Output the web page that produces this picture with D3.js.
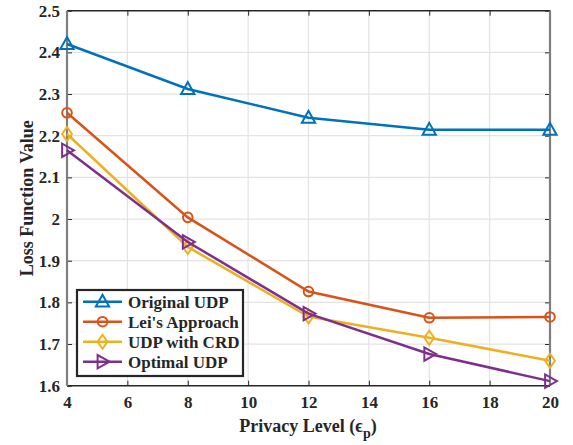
<!DOCTYPE html>
<html><head><meta charset="utf-8">
<script src="https://cdn.jsdelivr.net/npm/d3@7"></script>
<style>body{margin:0;background:#fff}svg{display:block}text{font-family:"Liberation Serif","Times New Roman",serif;font-weight:bold;fill:#262626}</style>
</head><body><svg id="c" width="573" height="445"></svg>
<script>
const privacyLevels = [4, 8, 12, 16, 20];
const seriesNames = ["Original UDP", "Lei's Approach", "UDP with CRD", "Optimal UDP"];
const originalUDP = [2.42, 2.312, 2.243, 2.214, 2.214];
const leiApproach = [2.255, 2.004, 1.826, 1.763, 1.765];
const udpWithCRD = [2.204, 1.933, 1.766, 1.715, 1.66];
const optimalUDP = [2.165, 1.945, 1.773, 1.676, 1.611];
const xTicks = [4, 6, 8, 10, 12, 14, 16, 18, 20];
const yTicks = [1.6, 1.7, 1.8, 1.9, 2, 2.1, 2.2, 2.3, 2.4, 2.5];

const colors = ["#0072BD", "#D95319", "#EDB120", "#7E2F8E"];
const markers = ["triUp", "circle", "diamond", "triRight"];
const series = [originalUDP, leiApproach, udpWithCRD, optimalUDP];

const svg = d3.select("#c");
const L = 67, R = 550, T = 10.7, B = 385.7;
const x = d3.scaleLinear().domain([4, 20]).range([L, R]);
const y = d3.scaleLinear().domain([1.6, 2.5]).range([B, T]);

// grid
svg.append("g").selectAll("line").data(xTicks.slice(1, -1)).join("line")
  .attr("x1", d => x(d)).attr("x2", d => x(d)).attr("y1", T).attr("y2", B)
  .attr("stroke", "#e3e3e3").attr("stroke-width", 1.2);
svg.append("g").selectAll("line").data(yTicks.slice(1, -1)).join("line")
  .attr("y1", d => y(d)).attr("y2", d => y(d)).attr("x1", L).attr("x2", R)
  .attr("stroke", "#e3e3e3").attr("stroke-width", 1.2);

// axes
const gx = svg.append("g").attr("transform", `translate(0,${B})`)
  .call(d3.axisBottom(x).tickValues(xTicks).tickSize(-5).tickPadding(10).tickFormat(d3.format("d")));
const gxt = svg.append("g").attr("transform", `translate(0,${T})`)
  .call(d3.axisTop(x).tickValues(xTicks).tickSize(-5).tickFormat(""));
const gy = svg.append("g").attr("transform", `translate(${L},0)`)
  .call(d3.axisLeft(y).tickValues(yTicks).tickSize(-5).tickPadding(7).tickFormat(d => d3.format("")(d)));
const gyr = svg.append("g").attr("transform", `translate(${R},0)`)
  .call(d3.axisRight(y).tickValues(yTicks).tickSize(-5).tickFormat(""));
[gx, gxt, gy, gyr].forEach(g => {
  g.select(".domain").remove();
  g.selectAll(".tick line").attr("stroke", "#262626").attr("stroke-width", 1);
  g.selectAll("text").style("font-size", "17px").attr("fill", "#262626");
});
// box
svg.append("line").attr("x1", L).attr("x2", R).attr("y1", B).attr("y2", B).attr("stroke", "#262626").attr("stroke-width", 1.5);
svg.append("line").attr("x1", L).attr("x2", R).attr("y1", T).attr("y2", T).attr("stroke", "#262626").attr("stroke-width", 1.5);
svg.append("line").attr("x1", L).attr("x2", L).attr("y1", T).attr("y2", B).attr("stroke", "#7f7f7f").attr("stroke-width", 2.2);
svg.append("line").attr("x1", R).attr("x2", R).attr("y1", T).attr("y2", B).attr("stroke", "#7f7f7f").attr("stroke-width", 2.2);

function markerPath(type, s) {
  if (type === "triUp") return `M0,${-s}L${s*0.95},${s*0.7}L${-s*0.95},${s*0.7}Z`;
  if (type === "triRight") return `M${s},0L${-s*0.7},${-s*0.95}L${-s*0.7},${s*0.95}Z`;
  if (type === "diamond") return `M0,${-s}L${s*0.7},0L0,${s}L${-s*0.7},0Z`;
  return null;
}
function drawMarker(g, type, cx, cy, color) {
  if (type === "circle") {
    g.append("circle").attr("cx", cx).attr("cy", cy).attr("r", 4.8)
      .attr("fill", "none").attr("stroke", color).attr("stroke-width", 2);
  } else {
    g.append("path").attr("d", markerPath(type, 7)).attr("transform", `translate(${cx},${cy})`)
      .attr("fill", "none").attr("stroke", color).attr("stroke-width", 2).attr("stroke-linejoin", "miter");
  }
}

const line = d3.line().x((d, i) => x(privacyLevels[i])).y(d => y(d));
series.forEach((s, k) => {
  const g = svg.append("g");
  g.append("path").attr("d", line(s)).attr("fill", "none").attr("stroke", colors[k]).attr("stroke-width", 2.5);
  s.forEach((v, i) => drawMarker(g, markers[k], x(privacyLevels[i]), y(v), colors[k]));
});

// legend
const lg = svg.append("g");
lg.append("rect").attr("x", 77).attr("y", 290).attr("width", 166).attr("height", 86)
  .attr("fill", "#fff").attr("stroke", "#262626").attr("stroke-width", 2.2);
seriesNames.forEach((n, k) => {
  const cy = 301.7 + k * 20;
  lg.append("line").attr("x1", 83).attr("x2", 122).attr("y1", cy).attr("y2", cy)
    .attr("stroke", colors[k]).attr("stroke-width", 2.5);
  drawMarker(lg, markers[k], 102.5, cy, colors[k]);
  lg.append("text").attr("x", 128).attr("y", cy + 6).style("font-size", "17px").text(n);
});

// axis labels
const xl = svg.append("text").attr("x", 308).attr("y", 432).attr("text-anchor", "middle").style("font-size", "18px");
xl.append("tspan").text("Privacy Level (");
xl.append("tspan").text("ϵ");
xl.append("tspan").attr("dy", 6).style("font-size", "14px").text("p");
xl.append("tspan").attr("dy", -6).text(")");
svg.append("text").attr("transform", `translate(33,${(T + B) / 2}) rotate(-90)`).attr("text-anchor", "middle")
  .style("font-size", "18px").text("Loss Function Value");
</script></body></html>
